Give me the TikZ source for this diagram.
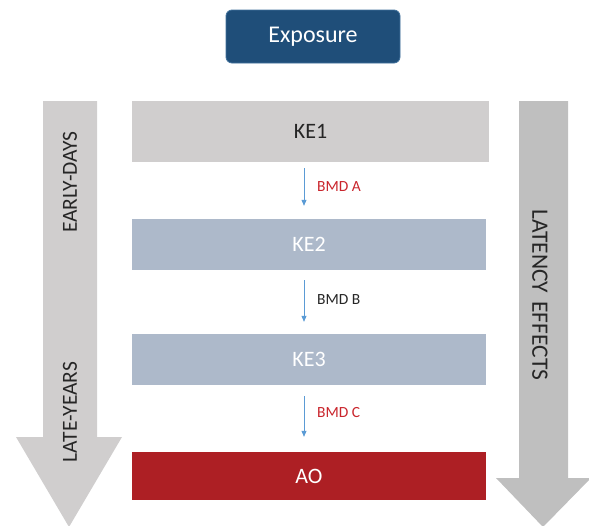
\documentclass[tikz,border=0pt]{standalone}
\usepackage{fontspec}
\setmainfont{Carlito}
\usetikzlibrary{arrows.meta}
\definecolor{expfill}{HTML}{1F4E79}
\definecolor{expdraw}{HTML}{41719C}
\definecolor{kegray}{HTML}{D0CECE}
\definecolor{keblue}{HTML}{ADB9CA}
\definecolor{aored}{HTML}{AD1F24}
\definecolor{bmdred}{HTML}{C9252C}
\definecolor{txtdark}{HTML}{262626}
\definecolor{leftarr}{HTML}{D0CECE}
\definecolor{rightarr}{HTML}{BFBFBF}
\definecolor{conn}{HTML}{5B9BD5}
\begin{document}
\begin{tikzpicture}[x=1pt,y=-1pt,
  box/.style={rectangle, inner sep=0pt, minimum width=354pt, font=\fontsize{22}{26}\selectfont},
  flow/.style={draw=conn, line width=0.8pt, -{Triangle[length=6pt,width=5pt]}},
  bmd/.style={anchor=west, inner sep=0pt, font=\fontsize{15.5}{18}\selectfont},
  side/.style={inner sep=0pt, text=txtdark, font=\fontsize{21.5}{25}\selectfont}]
\useasboundingbox (0,0) rectangle (589,525);
% side arrows
\fill[leftarr] (43,101) -- (97,101) -- (97,437) -- (122,437) -- (69,527) -- (16,437) -- (43,437) -- cycle;
\fill[rightarr] (519,101) -- (568,101) -- (568,478) -- (591,478) -- (543,527) -- (496,478) -- (519,478) -- cycle;
\node[side, rotate=90] (early) at (70,182) {EARLY-DAYS};
\node[side, rotate=90] (late) at (70,412) {LATE-YEARS};
\node[side, rotate=-90, font=\fontsize{23.5}{27}\selectfont] (lat) at (540,295) {LATENCY\hspace{8pt}EFFECTS};
% top node
\node[rectangle, rounded corners=6pt, fill=expfill, draw=expdraw, line width=0.8pt,
      minimum width=174pt, minimum height=53pt, text=white,
      font=\fontsize{24}{28}\selectfont] (exp) at (313,36.5) {Exposure};
% boxes
\node[box, fill=kegray, minimum width=357pt, minimum height=61pt, text=txtdark] (ke1) at (310.5,131.5) {KE1};
\node[box, fill=keblue, minimum height=51pt, text=white] (ke2) at (309,244.5) {KE2};
\node[box, fill=keblue, minimum height=51pt, text=white] (ke3) at (309,359.5) {KE3};
\node[box, fill=aored, minimum height=48pt, text=white] (ao) at (309,476) {AO};
% connectors
\coordinate (ax) at (304,0);
\draw[flow, shorten <=6pt, shorten >=13pt] (ke1.south -| ax) -- (ke2.north -| ax);
\draw[flow, shorten <=10pt, shorten >=12pt] (ke2.south -| ax) -- (ke3.north -| ax);
\draw[flow, shorten <=11pt, shorten >=15pt] (ke3.south -| ax) -- (ao.north -| ax);
\node[bmd, text=bmdred] (bmda) at (317,187) {BMD A};
\node[bmd, text=txtdark] (bmdb) at (317,300) {BMD B};
\node[bmd, text=bmdred] (bmdc) at (317,413) {BMD C};
\end{tikzpicture}
\end{document}
